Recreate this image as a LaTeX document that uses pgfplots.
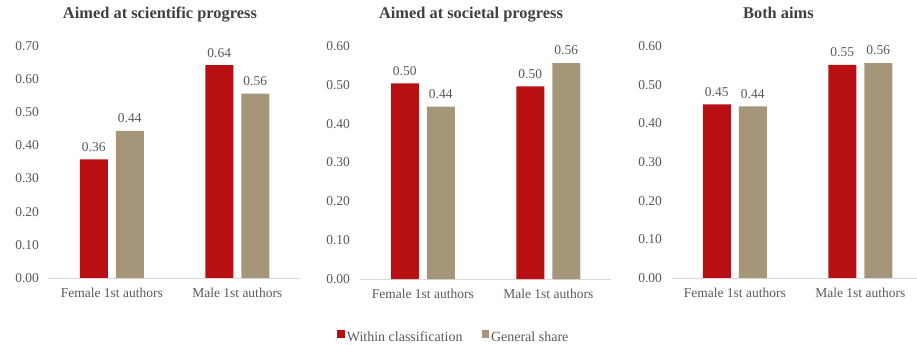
\documentclass[border=0pt]{standalone}
\usepackage{fontspec}
\setmainfont{Liberation Serif}
\usepackage{pgfplots}
\pgfplotsset{compat=1.18}

\definecolor{barred}{HTML}{B80F12}
\definecolor{bartan}{HTML}{A69679}
\definecolor{txtgray}{HTML}{595959}
\definecolor{titlegray}{HTML}{404040}
\definecolor{axisgray}{HTML}{D9D9D9}

% Data: share of first authors by gender
\pgfplotstableread{
x within general
0 0.358 0.444
1 0.642 0.556
}\scientific
\pgfplotstableread{
x within general
0 0.504 0.444
1 0.496 0.556
}\societal
\pgfplotstableread{
x within general
0 0.449 0.444
1 0.551 0.556
}\both

\pgfplotsset{
  /pgf/number format/assume math mode=true,
  panel/.style={
    scale only axis,
    width=251bp,
    ybar=8bp, bar width=28bp,
    xmin=-0.5, xmax=1.5, ymin=0,
    enlarge y limits=false,
    clip=false,
    axis line style={draw=none},
    tick style={draw=none},
    major tick length=0pt,
    xtick={0,1},
    xticklabels={Female 1st authors, Male 1st authors},
    scaled y ticks=false,
    yticklabel={\pgfmathprintnumber[fixed,fixed zerofill,precision=2]{\tick}},
    tick label style={font=\fontsize{13.5bp}{16bp}\selectfont, text=txtgray},
    xticklabel style={yshift=-6.5bp},
    yticklabel style={xshift=-6.5bp},
    nodes near coords={\pgfmathprintnumber[fixed,fixed zerofill,precision=2]{\pgfplotspointmeta}},
    nodes near coords style={font=\fontsize{13.5bp}{16bp}\selectfont, text=txtgray, yshift=4.5bp},
    title style={anchor=base, yshift=22bp,
      font=\fontsize{16.4bp}{19bp}\selectfont\bfseries, text=titlegray},
  },
  redbar/.style={fill=barred, draw=none},
  tanbar/.style={fill=bartan, draw=none},
  sq/.style={legend image code/.code={\fill[##1] (0bp,-0.5bp) rectangle (7.5bp,7bp);}},
}

\begin{document}
\begin{tikzpicture}
\useasboundingbox (0,0) rectangle (917bp,345bp);

% Panel 1
\begin{axis}[panel, at={(49bp,67bp)}, anchor=south west, height=232bp,
  ymax=0.7, ytick={0,0.1,0.2,0.3,0.4,0.5,0.6,0.7},
  title={Aimed at scientific progress},
  title style={at={(axis description cs:0.442,1)}}]
  \draw[axisgray, line width=0.9bp] (rel axis cs:0,0) -- (rel axis cs:1,0);
  \addplot[redbar] table[x=x, y=within] {\scientific};
  \addplot[tanbar] table[x=x, y=general] {\scientific};
\end{axis}

% Panel 2 (carries the legend)
\begin{axis}[panel, at={(360bp,66bp)}, anchor=south west, height=233bp,
  ymax=0.6, ytick={0,0.1,0.2,0.3,0.4,0.5,0.6},
  title={Aimed at societal progress},
  title style={at={(axis description cs:0.442,1)}},
  legend columns=2,
  legend style={at={(axis description cs:0.374,-0.251)}, anchor=center,
    draw=none, fill=none, font=\fontsize{14bp}{16bp}\selectfont, text=txtgray,
    /tikz/every even column/.append style={column sep=17bp}}]
  \draw[axisgray, line width=0.9bp] (rel axis cs:0,0) -- (rel axis cs:1,0);
  \addplot[redbar, sq] table[x=x, y=within] {\societal};
  \addplot[tanbar, sq] table[x=x, y=general] {\societal};
  \legend{Within classification, General share}
\end{axis}

% Panel 3
\begin{axis}[panel, at={(672bp,67bp)}, anchor=south west, height=232bp,
  ymax=0.6, ytick={0,0.1,0.2,0.3,0.4,0.5,0.6},
  title={Both aims},
  title style={at={(axis description cs:0.424,1)}}]
  \draw[axisgray, line width=0.9bp] (rel axis cs:0,0) -- (rel axis cs:1,0);
  \addplot[redbar] table[x=x, y=within] {\both};
  \addplot[tanbar] table[x=x, y=general] {\both};
\end{axis}
\end{tikzpicture}
\end{document}
